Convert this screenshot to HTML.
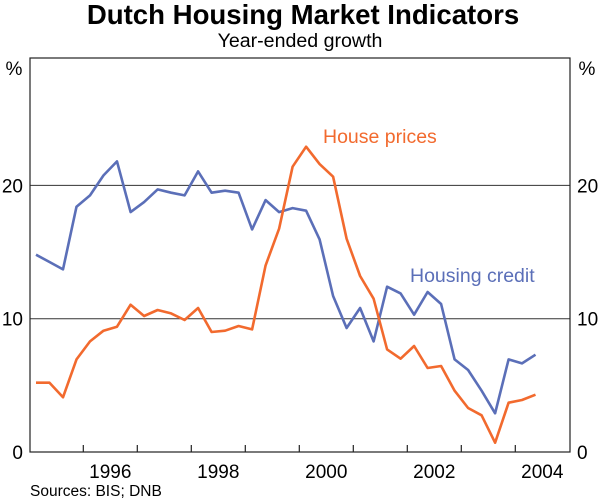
<!DOCTYPE html>
<html><head><meta charset="utf-8"><style>
body{margin:0;background:#fff;}
svg{display:block;font-family:"Liberation Sans",Arial,sans-serif;}
</style></head><body>
<svg id="chart" width="600" height="500" viewBox="0 0 600 500">
<text x="303" y="24" text-anchor="middle" font-size="27.6" font-weight="bold">Dutch Housing Market Indicators</text>
<text x="300" y="47" text-anchor="middle" font-size="19.6">Year-ended growth</text>
<text x="14" y="75" text-anchor="middle" font-size="19">%</text>
<text x="587" y="75" text-anchor="middle" font-size="19">%</text>
<g id="grid"></g>
<g id="series"></g>
<rect x="30" y="58" width="540" height="394" fill="none" stroke="#222" stroke-width="1.2"/>
<g id="axes"></g>
<text x="323" y="143" font-size="19.5" fill="#f26a2e">House prices</text>
<text x="410" y="282" font-size="19.5" fill="#5b6fb8">Housing credit</text>
<text x="30" y="496" font-size="15.5">Sources: BIS; DNB</text>
</svg>
<script>
const yTicks=[0,10,20];
const yearLabels=[1996,1998,2000,2002,2004];
const startYear=1995;
const housingCredit=[14.8,14.25,13.7,18.4,19.25,20.75,21.8,18.0,18.75,19.7,19.45,19.25,21.05,19.45,19.6,19.45,16.7,18.9,18.0,18.3,18.1,15.95,11.7,9.3,10.8,8.3,12.4,11.9,10.3,12.0,11.1,6.95,6.15,4.6,2.9,6.95,6.65,7.3];
const housePrices=[5.2,5.2,4.1,6.95,8.3,9.1,9.4,11.05,10.2,10.65,10.4,9.9,10.8,9.0,9.1,9.45,9.2,14.0,16.75,21.4,22.9,21.6,20.65,16.0,13.2,11.5,7.7,7.0,7.95,6.3,6.45,4.6,3.3,2.75,0.7,3.7,3.9,4.3];

const NS="http://www.w3.org/2000/svg";
const X0=29.3,XW=54,Y0=452,YS=13.33;
function xs(t){return X0+(t-startYear)*XW;}
function ys(v){return Y0-v*YS;}
function mk(tag,attrs,parent){const e=document.createElementNS(NS,tag);for(const k in attrs)e.setAttribute(k,attrs[k]);parent.appendChild(e);return e;}
const grid=document.getElementById('grid'),axes=document.getElementById('axes'),series=document.getElementById('series');
yTicks.forEach(v=>{
  if(v>0){const l=mk('line',{x1:30,x2:570,y1:ys(v),y2:ys(v),stroke:'#333','stroke-width':1},grid);
  
  }
  const a=mk('text',{x:23,y:ys(v)+7,'text-anchor':'end','font-size':19},axes);a.textContent=v;
  
  
  const b=mk('text',{x:577,y:ys(v)+7,'text-anchor':'start','font-size':19},axes);b.textContent=v;
  
  
});
for(let yr=1996;yr<=2004;yr++){
  const t=mk('line',{x1:xs(yr),x2:xs(yr),y1:Y0,y2:Y0-7,stroke:'#222','stroke-width':1.2},axes);
  
  
}
yearLabels.forEach(yr=>{
  const t=mk('text',{x:xs(yr+0.5),y:478,'text-anchor':'middle','font-size':19},axes);t.textContent=yr;
  
  
});
function drawLine(arr,color,name){
  const pts=arr.map((v,i)=>xs(startYear+(i+0.5)/4).toFixed(1)+','+ys(v).toFixed(1)).join(' ');
  const p=mk('polyline',{points:pts,fill:'none',stroke:color,'stroke-width':2.6,'stroke-linejoin':'round'},series);
  
  
}
drawLine(housingCredit,'#5b6fb8','housing-credit-line');
drawLine(housePrices,'#f26a2e','house-prices-line');
</script>
</body></html>
